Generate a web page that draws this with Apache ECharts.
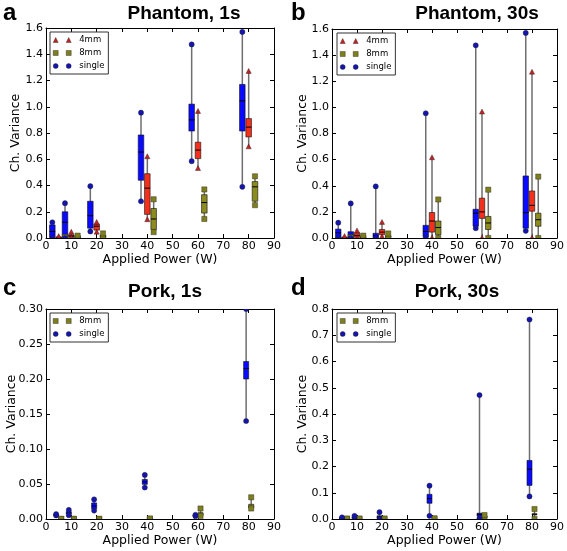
<!DOCTYPE html>
<html><head><meta charset="utf-8">
<script src="https://cdn.jsdelivr.net/npm/echarts@6/dist/echarts.min.js"></script>
<style>html,body{margin:0;padding:0;background:#fff}#c{width:567px;height:551px}</style>
</head><body><div id="c"></div>
<script>
// ---------------- DATA ----------------
const powers = [5, 10, 20, 40, 60, 80];
const xTicks = [0, 10, 20, 30, 40, 50, 60, 70, 80, 90];
// each row: [min, q1, median, q3, max] per power
const phantom1s_4mm = [
  [0.0, 0.002, 0.005, 0.008, 0.012],
  [0.0, 0.005, 0.015, 0.025, 0.045],
  [0.045, 0.06, 0.09, 0.105, 0.12],
  [0.14, 0.18, 0.38, 0.49, 0.62],
  [0.53, 0.605, 0.67, 0.73, 0.965],
  [0.695, 0.77, 0.845, 0.91, 1.27]
];
const phantom1s_8mm = [
  [0.0, 0.0, 0.002, 0.005, 0.008],
  [0.0, 0.002, 0.006, 0.012, 0.018],
  [0.0, 0.004, 0.012, 0.022, 0.035],
  [0.045, 0.065, 0.145, 0.225, 0.295],
  [0.145, 0.19, 0.27, 0.33, 0.37],
  [0.25, 0.28, 0.39, 0.43, 0.47]
];
const phantom1s_single = [
  [0.0, 0.005, 0.05, 0.10, 0.12],
  [0.0, 0.01, 0.12, 0.20, 0.265],
  [0.05, 0.075, 0.17, 0.28, 0.395],
  [0.28, 0.44, 0.655, 0.785, 0.955],
  [0.585, 0.815, 0.90, 1.02, 1.475],
  [0.39, 0.815, 1.045, 1.17, 1.57]
];
const phantom30s_4mm = [
  [0.0, 0.002, 0.004, 0.007, 0.012],
  [0.0, 0.005, 0.02, 0.04, 0.055],
  [0.01, 0.025, 0.045, 0.065, 0.12],
  [0.0, 0.045, 0.13, 0.195, 0.615],
  [0.0, 0.15, 0.2, 0.305, 0.965],
  [0.0, 0.205, 0.25, 0.36, 1.27]
];
const phantom30s_8mm = [
  [0.0, 0.0, 0.002, 0.004, 0.006],
  [0.0, 0.002, 0.006, 0.01, 0.018],
  [0.0, 0.003, 0.008, 0.015, 0.035],
  [0.0, 0.025, 0.08, 0.13, 0.295],
  [0.0, 0.065, 0.115, 0.165, 0.37],
  [0.0, 0.09, 0.14, 0.19, 0.47]
];
const phantom30s_single = [
  [0.0, 0.003, 0.04, 0.068, 0.117],
  [0.0, 0.003, 0.02, 0.048, 0.265],
  [0.0, 0.002, 0.015, 0.036, 0.395],
  [0.005, 0.01, 0.05, 0.097, 0.955],
  [0.075, 0.09, 0.19, 0.22, 1.475],
  [0.055, 0.075, 0.195, 0.475, 1.57]
];
const pork1s_8mm = [
  [0.0, 0.0, 0.0, 0.0, 0.0003],
  [0.0, 0.0, 0.0, 0.0, 0.0003],
  [0.0, 0.0, 0.0, 0.0, 0.0003],
  [0.0, 0.0, 0.0003, 0.0005, 0.0008],
  [0.0045, 0.005, 0.006, 0.009, 0.015],
  [0.015, 0.0155, 0.018, 0.021, 0.031]
];
const pork1s_single = [
  [0.005, 0.0055, 0.006, 0.0065, 0.007],
  [0.0055, 0.007, 0.0085, 0.0105, 0.013],
  [0.012, 0.0145, 0.0185, 0.023, 0.028],
  [0.045, 0.0495, 0.053, 0.0565, 0.063],
  [0.004, 0.0045, 0.005, 0.0055, 0.006],
  [0.14, 0.20, 0.215, 0.225, 0.30]
];
const pork30s_8mm = [
  [0.0, 0.0, 0.0005, 0.001, 0.002],
  [0.0, 0.0, 0.0005, 0.001, 0.002],
  [0.0, 0.0, 0.0005, 0.001, 0.002],
  [0.0, 0.0, 0.0005, 0.001, 0.003],
  [0.002, 0.005, 0.008, 0.012, 0.015],
  [0.0, 0.016, 0.018, 0.02, 0.038]
];
const pork30s_single = [
  [0.002, 0.003, 0.004, 0.005, 0.006],
  [0.002, 0.004, 0.006, 0.009, 0.012],
  [0.0, 0.003, 0.008, 0.012, 0.026],
  [0.012, 0.06, 0.078, 0.094, 0.127],
  [0.003, 0.011, 0.018, 0.022, 0.472],
  [0.086, 0.128, 0.19, 0.223, 0.76]
];
const phantomTicks = [0.0, 0.2, 0.4, 0.6, 0.8, 1.0, 1.2, 1.4, 1.6];
const pork1sTicks = [0.00, 0.05, 0.10, 0.15, 0.20, 0.25, 0.30];
const pork30sTicks = [0.0, 0.1, 0.2, 0.3, 0.4, 0.5, 0.6, 0.7, 0.8];

// ---------------- LAYOUT / STYLE ----------------
const STY = {
  '4mm':   {box: '#f2301c', mark: '#c22222', shape: 'triangle',
            icon: 'path://M0,5L2.5,0L5,5Z M13,5L15.5,0L18,5Z'},
  '8mm':   {box: '#8b8b1e', mark: '#7e7e1c', shape: 'square',
            icon: 'path://M0,0H5V5H0Z M13,0H18V5H13Z'},
  'single':{box: '#0a0aff', mark: '#1414b0', shape: 'circle',
            icon: 'path://M0,2.5A2.5,2.5 0 1 1 5,2.5A2.5,2.5 0 1 1 0,2.5Z M13,2.5A2.5,2.5 0 1 1 18,2.5A2.5,2.5 0 1 1 13,2.5Z'}
};
const panels = [
  {grid:{left:46, top:28, width:228, height:210}, ticks: phantomTicks, dec:1,
   groups:{'8mm':phantom1s_8mm, '4mm':phantom1s_4mm, 'single':phantom1s_single},
   offsets:{'single':-2.5, '4mm':0, '8mm':2.5}, boxW:2.2, legend:['4mm','8mm','single'],
   legendPos:{left:50, top:32}, nameGap:24,
   title:'Phantom, 1s', tx:184, ty:14, letter:'a', lx:3, ly:13},
  {grid:{left:332, top:29, width:227, height:209}, ticks: phantomTicks, dec:1,
   groups:{'8mm':phantom30s_8mm, '4mm':phantom30s_4mm, 'single':phantom30s_single},
   offsets:{'single':-2.5, '4mm':0, '8mm':2.5}, boxW:2.2, legend:['4mm','8mm','single'],
   legendPos:{left:337, top:33}, nameGap:23,
   title:'Phantom, 30s', tx:477, ty:14, letter:'b', lx:291, ly:13},
  {grid:{left:46, top:309, width:228, height:210}, ticks: pork1sTicks, dec:2,
   groups:{'8mm':pork1s_8mm, 'single':pork1s_single},
   offsets:{'single':-1, '8mm':1}, boxW:2.0, legend:['8mm','single'],
   legendPos:{left:50, top:313}, nameGap:28,
   title:'Pork, 1s', tx:165, ty:292, letter:'c', lx:3, ly:288},
  {grid:{left:332, top:309, width:227, height:210}, ticks: pork30sTicks, dec:1,
   groups:{'8mm':pork30s_8mm, 'single':pork30s_single},
   offsets:{'single':-1, '8mm':1}, boxW:2.0, legend:['8mm','single'],
   legendPos:{left:337, top:313}, nameGap:23,
   title:'Pork, 30s', tx:457, ty:292, letter:'d', lx:291, ly:288}
];

const FONT = '"DejaVu Sans", sans-serif';
const grids = [], xAxes = [], yAxes = [], series = [], legends = [], graphics = [];
const N = panels.length;

panels.forEach((p, i) => {
  grids.push(Object.assign({containLabel:false}, p.grid));
  const yMin = p.ticks[0], yMax = p.ticks[p.ticks.length - 1], yInt = p.ticks[1] - p.ticks[0];
  const xBase = {type:'value', gridIndex:i, min:xTicks[0], max:xTicks[xTicks.length-1],
    interval:xTicks[1]-xTicks[0], splitLine:{show:false},
    axisLine:{show:true, onZero:false, lineStyle:{color:'#000', width:1}},
    axisTick:{show:true, inside:true, length:4, lineStyle:{color:'#000', width:1}}};
  const yBase = {type:'value', gridIndex:i, min:yMin, max:yMax, interval:yInt, splitLine:{show:false},
    axisLine:{show:true, onZero:false, lineStyle:{color:'#000', width:1}},
    axisTick:{show:true, inside:true, length:4, lineStyle:{color:'#000', width:1}}};
  xAxes[i] = Object.assign({}, xBase, {position:'bottom',
    name:'Applied Power (W)', nameLocation:'middle', nameGap:15, nameMoveOverlap:false,
    nameTextStyle:{fontFamily:FONT, fontSize:12.5, color:'#000'},
    axisLabel:{fontFamily:FONT, fontSize:11, color:'#000', margin:3}});
  xAxes[N+i] = Object.assign({}, xBase, {position:'top', axisLabel:{show:false}});
  yAxes[i] = Object.assign({}, yBase, {position:'left',
    name:'Ch. Variance', nameLocation:'middle', nameGap:p.nameGap, nameMoveOverlap:false,
    nameTextStyle:{fontFamily:FONT, fontSize:12.5, color:'#000'},
    axisLabel:{fontFamily:FONT, fontSize:11, color:'#000', margin:3,
      formatter: v => v.toFixed(p.dec)}});
  yAxes[N+i] = Object.assign({}, yBase, {position:'right', axisLabel:{show:false}});

  // boxes (whisker, box, median)
  Object.keys(p.groups).forEach(g => {
    const stats = p.groups[g];
    const data = stats.map((s, k) => [powers[k] + p.offsets[g]].concat(s));
    const color = STY[g].box, bw = p.boxW;
    series.push({
      type:'custom', name:g + ' box', xAxisIndex:i, yAxisIndex:i, clip:true, z:2,
      data:data, encode:{x:0, y:[1,2,3,4,5]}, silent:true,
      renderItem:function(params, api){
        const x = api.value(0);
        const pMin = api.coord([x, api.value(1)]);
        const pQ1 = api.coord([x, api.value(2)]);
        const pMed = api.coord([x, api.value(3)]);
        const pQ3 = api.coord([x, api.value(4)]);
        const pMax = api.coord([x, api.value(5)]);
        const w = api.size([bw, 0])[0];
        return {type:'group', children:[
          {type:'line', shape:{x1:pMin[0], y1:pMin[1], x2:pMax[0], y2:pMax[1]},
           style:{stroke:'#6e6e6e', lineWidth:1.5}},
          {type:'rect', shape:{x:pQ1[0]-w/2, y:pQ3[1], width:w, height:Math.max(pQ1[1]-pQ3[1], 0.8)},
           style:{fill:color, stroke:'#111', lineWidth:0.6}},
          {type:'line', shape:{x1:pMed[0]-w/2, y1:pMed[1], x2:pMed[0]+w/2, y2:pMed[1]},
           style:{stroke:'#000', lineWidth:1}}
        ]};
      }
    });
  });
  // min / max markers
  Object.keys(p.groups).forEach(g => {
    const stats = p.groups[g];
    const data = [];
    stats.forEach((s, k) => {
      const x = powers[k] + p.offsets[g];
      data.push([x, s[0]]); data.push([x, s[4]]);
    });
    const st = STY[g];
    series.push({
      type:'custom', name:g, xAxisIndex:i, yAxisIndex:i, clip:true, z:3,
      itemStyle:{color:st.mark}, data:data, encode:{x:0, y:1}, silent:true,
      renderItem:function(params, api){
        const c = api.coord([api.value(0), api.value(1)]);
        const r = 2.6;
        const style = {fill:st.mark, stroke:'#222', lineWidth:0.4};
        if (st.shape === 'circle') return {type:'circle', shape:{cx:c[0], cy:c[1], r:r}, style:style};
        if (st.shape === 'square') return {type:'rect', shape:{x:c[0]-r, y:c[1]-r, width:2*r, height:2*r}, style:style};
        return {type:'polygon', shape:{points:[[c[0]-r, c[1]+r*0.8],[c[0], c[1]-r*1.1],[c[0]+r, c[1]+r*0.8]]}, style:style};
      }
    });
  });

  legends.push({
    orient:'vertical', left:p.legendPos.left, top:p.legendPos.top,
    padding:[3,4,3,3], itemGap:3, itemWidth:18, itemHeight:5,
    borderColor:'#333', borderWidth:1, backgroundColor:'#fff', selectedMode:false,
    textStyle:{fontFamily:FONT, fontSize:8.5, color:'#000', lineHeight:10, padding:[0,0,0,3]},
    data:p.legend.map(n => ({name:n, icon:STY[n].icon, itemStyle:{color:STY[n].mark, borderColor:'#222', borderWidth:0.4}}))
  });

  graphics.push({type:'text', x:p.tx, y:p.ty, style:{text:p.title, textAlign:'center', textVerticalAlign:'middle',
    font:'bold 19px "Liberation Sans", Arial, sans-serif', fill:'#000'}});
  graphics.push({type:'text', x:p.lx, y:p.ly, style:{text:p.letter, textAlign:'left', textVerticalAlign:'middle',
    font:'bold 24px "Liberation Sans", Arial, sans-serif', fill:'#000'}});
});

const chart = echarts.init(document.getElementById('c'));
chart.setOption({
  animation:false,
  backgroundColor:'#fff',
  grid:grids, xAxis:xAxes, yAxis:yAxes, series:series, legend:legends, graphic:graphics
});
</script>
</body></html>
